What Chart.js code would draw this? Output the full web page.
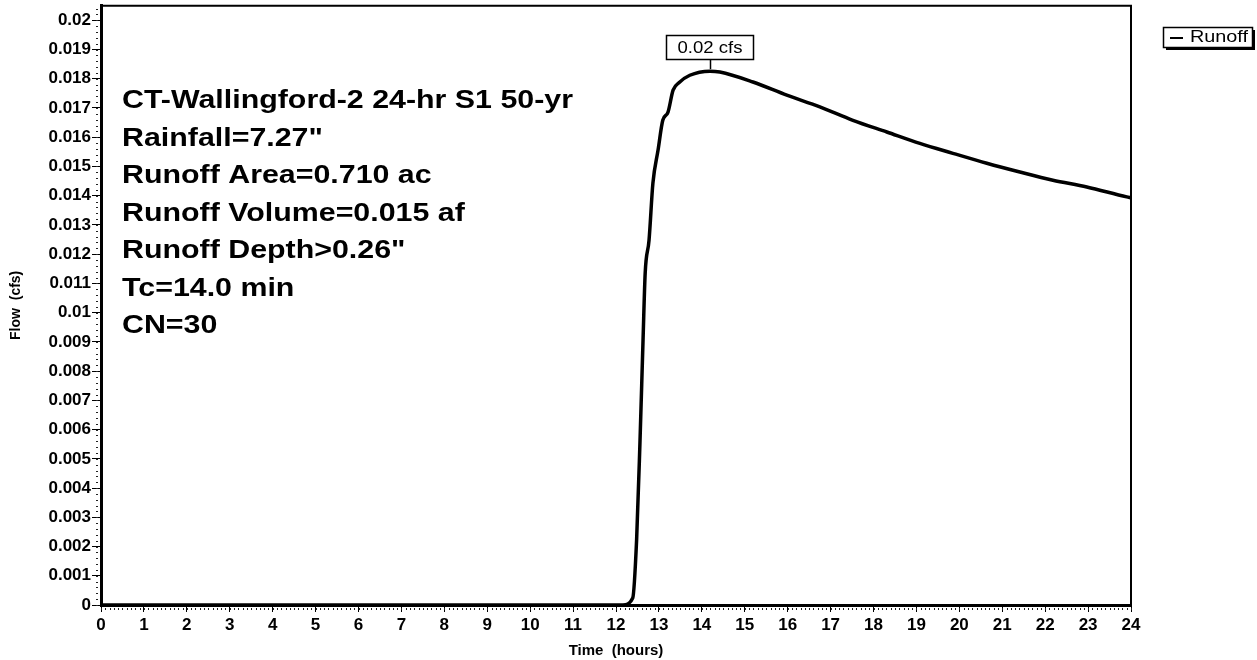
<!DOCTYPE html>
<html>
<head>
<meta charset="utf-8">
<script src="https://cdn.jsdelivr.net/npm/chart.js@4/dist/chart.umd.min.js"></script>
<style>
  html,body{margin:0;padding:0;background:#fff;}
  #wrap{width:1257px;height:660px;position:relative;}
</style>
</head>
<body>
<div id="wrap"><canvas id="c" width="1257" height="660"></canvas></div>
<script>
// ---- data ----
const timeHours = [0, 12.16, 12.39, 12.48, 12.56, 12.63, 12.68, 12.77, 12.86, 12.98, 13.09, 13.21, 13.33, 13.48, 13.72, 14.19, 14.42, 15.19, 15.98, 16.75, 17.52, 18.31, 19.08, 19.85, 20.64, 21.41, 22.18, 22.97, 23.90, 24.0];
const runoffCfs = [0, 0, 0.00024, 0.00222, 0.00564, 0.00906, 0.01135, 0.01248, 0.01443, 0.01556, 0.01658, 0.01685, 0.01761, 0.01788, 0.01812, 0.01826, 0.01823, 0.01789, 0.01744, 0.01704, 0.01658, 0.01618, 0.01579, 0.01545, 0.01511, 0.01481, 0.01453, 0.01430, 0.01396, 0.01393];
const xTickHours = [0,1,2,3,4,5,6,7,8,9,10,11,12,13,14,15,16,17,18,19,20,21,22,23,24];
const yTickValues = [0,0.001,0.002,0.003,0.004,0.005,0.006,0.007,0.008,0.009,0.01,0.011,0.012,0.013,0.014,0.015,0.016,0.017,0.018,0.019,0.02];
const seriesName = "Runoff";
const infoLines = [
  "CT-Wallingford-2 24-hr S1 50-yr",
  "Rainfall=7.27\"",
  "Runoff Area=0.710 ac",
  "Runoff Volume=0.015 af",
  "Runoff Depth>0.26\"",
  "Tc=14.0 min",
  "CN=30"
];
const xTitle = "Time  (hours)";
const yTitle = "Flow  (cfs)";
const peakUnit = "cfs";

const FONT = "'Liberation Sans', Arial, Helvetica, sans-serif";

const points = timeHours.map((t, i) => ({x: t, y: runoffCfs[i]}));

function stretchedText(ctx, s, x, y, sx) {
  ctx.save();
  ctx.translate(x, y);
  ctx.scale(sx, 1);
  ctx.fillText(s, 0, 0);
  ctx.restore();
}

const overlay = {
  id: 'overlay',
  afterDraw(chart) {
    const ctx = chart.ctx;
    const a = chart.chartArea;
    const xs = chart.scales.x, ys = chart.scales.y;
    ctx.save();
    // frame (top/right)
    ctx.strokeStyle = '#000';
    ctx.lineWidth = 2;
    ctx.beginPath();
    ctx.moveTo(a.left, a.top); ctx.lineTo(a.right, a.top); ctx.lineTo(a.right, a.bottom);
    ctx.stroke();

    // minor ticks y
    ctx.fillStyle = '#222';
    for (let k = 0; k <= 102; k++) {
      const v = k * 0.0002;
      if (v > ys.max) break;
      const py = Math.round(ys.getPixelForValue(v));
      ctx.fillRect(a.left - 5, py, 2, 1);
    }
    // minor ticks x
    for (let k = 0; k <= 240; k++) {
      const v = k * 0.1;
      const px = Math.round(xs.getPixelForValue(v));
      ctx.fillRect(px, a.bottom + 3, 1, 2);
    }

    // info text (stretched horizontally to match the reference)
    ctx.fillStyle = '#000';
    ctx.font = "bold 26px " + FONT;
    ctx.textBaseline = 'middle';
    ctx.textAlign = 'left';
    const sx = 451 / ctx.measureText(infoLines[0]).width;
    infoLines.forEach((s, i) => stretchedText(ctx, s, 122, 101 + i * 37.5, sx));

    // peak label
    let pi = 0;
    runoffCfs.forEach((v, i) => { if (v > runoffCfs[pi]) pi = i; });
    const px = xs.getPixelForValue(timeHours[pi]);
    const py = ys.getPixelForValue(runoffCfs[pi]);
    const label = runoffCfs[pi].toFixed(2) + " " + peakUnit;
    ctx.font = "17px " + FONT;
    const w = 87;
    const bx = Math.round(px - w / 2) + 0.5, by = 35.5, bh = 24;
    ctx.fillStyle = '#fff';
    ctx.fillRect(bx, by, w, bh);
    ctx.lineWidth = 1.5;
    ctx.strokeStyle = '#000';
    ctx.strokeRect(bx, by, w, bh);
    ctx.beginPath();
    ctx.moveTo(Math.round(px) + 0.5, by + bh);
    ctx.lineTo(Math.round(px) + 0.5, py - 2);
    ctx.stroke();
    ctx.fillStyle = '#000';
    ctx.textAlign = 'center';
    const tw = ctx.measureText(label).width;
    ctx.save();
    ctx.translate(px, by + bh / 2 + 1);
    ctx.scale(65 / tw, 1);
    ctx.fillText(label, 0, 0);
    ctx.restore();

    // legend box with shadow
    const lx = 1163, ly = 27, lw = 89, lh = 20;
    ctx.fillStyle = '#000';
    ctx.fillRect(lx + 3, ly + 3, lw, lh);
    ctx.fillStyle = '#fff';
    ctx.fillRect(lx, ly, lw, lh);
    ctx.lineWidth = 1.5;
    ctx.strokeRect(lx + 0.5, ly + 0.5, lw, lh);
    ctx.fillStyle = '#000';
    ctx.fillRect(lx + 7, ly + 10, 13, 2);
    ctx.font = "16px " + FONT;
    ctx.textAlign = 'left';
    const lt = chart.data.datasets[0].label;
    stretchedText(ctx, lt, lx + 27, ly + lh / 2 + 1, 58 / ctx.measureText(lt).width);
    ctx.restore();
  }
};

new Chart(document.getElementById('c'), {
  type: 'line',
  data: {
    datasets: [{
      label: seriesName,
      data: points,
      borderColor: '#000',
      borderWidth: 3.5,
      pointRadius: 0,
      cubicInterpolationMode: 'monotone',
      fill: false
    }]
  },
  options: {
    responsive: false,
    animation: false,
    layout: {padding: {top: 5, right: 126, left: 0, bottom: 0}},
    plugins: {legend: {display: false}, tooltip: {enabled: false}},
    scales: {
      x: {
        type: 'linear', min: 0, max: 24,
        afterBuildTicks(scale) { scale.ticks = xTickHours.map(v => ({value: v})); },
        afterFit(scale) { scale.height = 55; },
        grid: {drawOnChartArea: false, color: '#000', tickLength: 7, tickWidth: 1},
        border: {color: '#000', width: 3},
        ticks: {color: '#000', font: {family: FONT, size: 17, weight: 'bold'}, padding: 3, maxRotation: 0, autoSkip: false},
        title: {display: true, text: xTitle, color: '#000', font: {family: FONT, size: 15, weight: 'bold'}, padding: {top: 0, bottom: 0}}
      },
      y: {
        type: 'linear', min: 0, max: 0.0205,
        afterBuildTicks(scale) { scale.ticks = yTickValues.map(v => ({value: v})); },
        afterFit(scale) { scale.width = 101; },
        grid: {drawOnChartArea: false, color: '#000', tickLength: 9, tickWidth: 1},
        border: {color: '#000', width: 3},
        ticks: {color: '#000', font: {family: FONT, size: 17, weight: 'bold', lineHeight: 0.55}, padding: 1, autoSkip: false,
                callback: v => String(+v.toFixed(3))},
        title: {display: true, text: yTitle, color: '#000', font: {family: FONT, size: 14, weight: 'bold'}, padding: {top: 8, bottom: 0}}
      }
    }
  },
  plugins: [overlay]
});
</script>
</body>
</html>
